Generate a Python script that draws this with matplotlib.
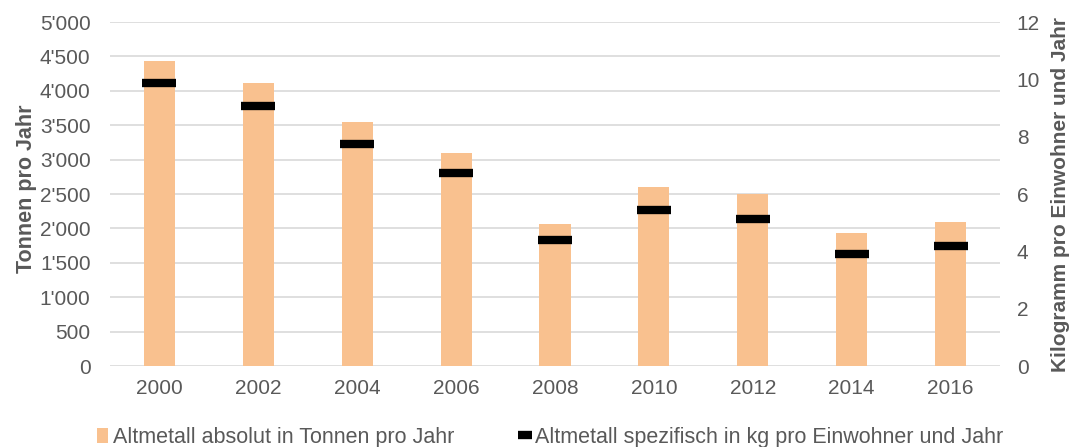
import matplotlib.pyplot as plt
from matplotlib.ticker import FuncFormatter
import numpy as np

years = ['2000', '2002', '2004', '2006', '2008', '2010', '2012', '2014', '2016']
tonnen = [4430, 4110, 3540, 3100, 2060, 2600, 2500, 1940, 2100]
kg_pro_einwohner = [9.86, 9.07, 7.73, 6.73, 4.39, 5.44, 5.14, 3.92, 4.19]

grey = '#595959'
plt.rcParams['font.family'] = ['Liberation Sans', 'DejaVu Sans']
fs = 15

fig = plt.figure(figsize=(10.75, 4.47), dpi=100)
ax = fig.add_axes([110 / 1075, 1 - 366 / 447, 890 / 1075, 344 / 447])
ax2 = ax.twinx()

x = np.arange(len(years))
ax.bar(x, tonnen, width=0.315, color='#F9C18F', zorder=2,
       label='Altmetall absolut in Tonnen pro Jahr')
ax2.plot(x, kg_pro_einwohner, linestyle='none', marker='_', markersize=24,
         markeredgewidth=6, color='black', zorder=3,
         label='Altmetall spezifisch in kg pro Einwohner und Jahr')

ax.set_xlim(-0.5, len(years) - 0.5)
ax.set_ylim(0, 5000)
ax.set_yticks(np.arange(0, 5001, 500))
ax.yaxis.set_major_formatter(FuncFormatter(lambda v, p: f'{int(v):,}'.replace(',', "'")))
ax2.set_ylim(0, 12)
ax2.set_yticks(np.arange(0, 13, 2))
ax.set_xticks(x)
ax.set_xticklabels(years)

ax.grid(axis='y', color='#d9d9d9', linewidth=1.2, zorder=0)
for a in (ax, ax2):
    for s in a.spines.values():
        s.set_visible(False)
    a.tick_params(length=0, colors=grey, labelsize=fs)
ax.tick_params(axis='x', pad=9)
ax.tick_params(axis='y', pad=14)
ax2.tick_params(axis='y', pad=12)

ax.set_ylabel('Tonnen pro Jahr', fontweight='bold', color=grey, fontsize=15.5)
ax.yaxis.set_label_coords(-0.082, 0.5145)
ax2.set_ylabel('Kilogramm pro Einwohner und Jahr', fontweight='bold', color=grey,
               fontsize=15, labelpad=8)

h1, l1 = ax.get_legend_handles_labels()
h2, l2 = ax2.get_legend_handles_labels()
fig.legend(h1 + h2, l1 + l2, loc='center', bbox_to_anchor=(0.512, 0.022), ncol=2,
           frameon=False, fontsize=15.5, labelcolor=grey, handlelength=0.5,
           handletextpad=0.25, columnspacing=3.0, markerscale=0.4,
           borderaxespad=0, borderpad=0)

fig.savefig('out.png', dpi=100)
